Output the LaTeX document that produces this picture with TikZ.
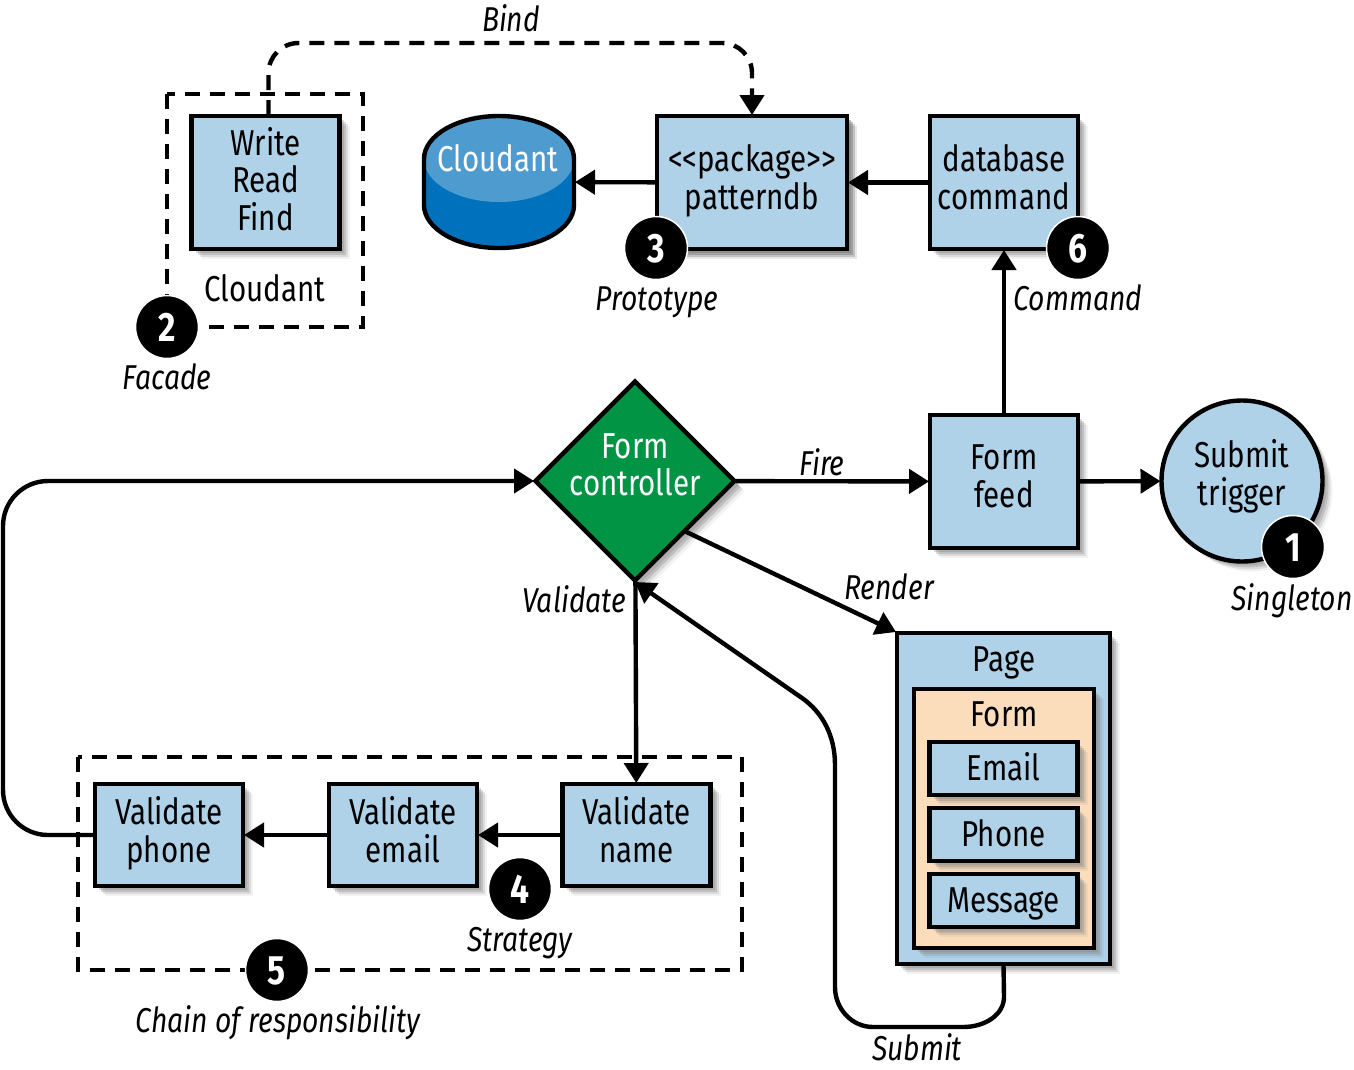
\documentclass[tikz,border=0pt]{standalone}
\usepackage{fontspec}
\setmainfont[FakeStretch=0.82]{Fira Sans}
\usetikzlibrary{arrows.meta,shadows,shapes.geometric}
\definecolor{boxblue}{HTML}{AFD2E9}
\definecolor{formtan}{HTML}{FBDDBB}
\definecolor{ctrlgreen}{HTML}{009444}
\definecolor{dbtop}{HTML}{4E9BD0}
\definecolor{dbside}{HTML}{0071BC}
\begin{document}
\begin{tikzpicture}[x=1pt, y=-1pt, line width=4.4pt,
    every node/.style={font=\fontsize{36}{37.5}\selectfont, align=center, inner sep=0pt, outer sep=1pt,
      execute at begin node={\rule{0pt}{32pt}}, execute at end node={\rule[-8pt]{0pt}{8pt}}},
    pair/.style={execute at begin node={\rule{0pt}{28pt}}, execute at end node={\rule[-11pt]{0pt}{11pt}}},
    soft/.style={drop shadow={shadow xshift=10pt, shadow yshift=-10pt, opacity=.1},
      drop shadow={shadow xshift=8pt, shadow yshift=-8pt, opacity=.2},
      drop shadow={shadow xshift=6pt, shadow yshift=-6pt, opacity=.3},
      drop shadow={shadow xshift=4pt, shadow yshift=-4pt, opacity=.3}},
    box/.style={draw, rectangle, soft, fill=boxblue, minimum width=#1},
    box/.default=148pt,
    tall/.style={box, minimum height=133pt},
    short/.style={box, minimum height=102pt, pair},
    field/.style={box, minimum height=53pt},
    tag/.style={font=\fontsize{34.5}{37}\selectfont\itshape},
    callout/.style={circle, fill=black, draw=white, line width=1.5pt, minimum size=63pt,
      text=white, font=\fontsize{41}{41}\selectfont\bfseries,
      execute at begin node={\rule{0pt}{36pt}}},
    flow/.style={-{Triangle[length=20pt,width=24pt]}},
    group/.style={dash pattern=on 15pt off 10pt}]
  \useasboundingbox (0,0) rectangle (1354,1069);

  \draw[group] (167,94) rectangle (363,327);
  \draw[group] (78,757) rectangle (742,970);

  \node[tall] (write) at (265.5,182.5) {Write\\Read\\Find};
  \node (facade) at (265,289) {Cloudant};

  \fill[dbside] (424,159) -- (424,205) arc[start angle=180, end angle=360, x radius=75pt, y radius=43pt]
    -- (574,159) arc[start angle=0, end angle=180, x radius=75pt, y radius=43pt] -- cycle;
  \fill[dbtop] (499,159) ellipse[x radius=75pt, y radius=43pt];
  \draw (424,159) -- (424,205) arc[start angle=180, end angle=360, x radius=75pt, y radius=43pt]
    -- (574,159) arc[start angle=0, end angle=180, x radius=75pt, y radius=43pt] -- cycle;
  \node[minimum width=150pt] (cloudant) at (499,182) {};
  \node[text=white] (cloudanttext) at (498,159.5) {Cloudant};

  \node[tall, box=190pt, pair] (package) at (752,182.5) {{<}{<}package{>}{>}\\patterndb};
  \node[tall, pair] (database) at (1004,182.5) {database\\command};

  \node[diamond, draw, soft, fill=ctrlgreen, minimum width=200pt, minimum height=200pt] (controller) at (635,481) {};
  \node[text=white, pair] (controllertext) at (635,470) {Form\\controller};
  \node[tall, pair] (feed) at (1004,481.5) {Form\\feed};
  \node[circle, draw, fill=boxblue, soft, minimum size=161pt] (trigger) at (1242,481) {};
  \node[pair] (triggertext) at (1242,478) {Submit\\trigger};

  \node[box=213pt, minimum height=331pt] (page) at (1003.5,798.5) {};
  \node (pagetext) at (1004,659) {Page};
  \node[draw, rectangle, soft, fill=formtan, minimum width=180pt, minimum height=259pt] (form) at (1004,818.5) {};
  \node (formtext) at (1004,714) {Form};
  \node[field] (email) at (1003.5,768.5) {Email};
  \node[field] (phone) at (1003.5,834.5) {Phone};
  \node[field] (message) at (1003.5,900.5) {Message};

  \node[short] (vname) at (636.5,835) {Validate\\name};
  \node[short] (vemail) at (403,835) {Validate\\email};
  \node[short] (vphone) at (169,835) {Validate\\phone};

  \draw[flow, group, rounded corners=30pt] ([xshift=3pt]write.north) -- ++(0,-72) -| (package.north);
  \draw[flow] (package) -- (cloudant);
  \draw[flow] (database) -- (package);
  \draw[flow] (feed) -- (database);
  \draw[flow] (controller) -- (feed);
  \draw[flow] (feed) -- (trigger);
  \draw[flow] (controller.south east) -- (page.north west);
  \draw[flow] (controller) -- (vname);
  \draw[flow] (vname) -- (vemail);
  \draw[flow] (vemail) -- (vphone);
  \draw[flow, rounded corners=45pt] (vphone.west) -- (3,835) -- (3,481) -- (controller.west);
  \draw[flow] (page.south) -- (1004,997) .. controls (1004,1014) and (986,1027) .. (963,1027) -- (873,1027)
    .. controls (852,1027) and (835,1009) .. (835,987) -- (835,765)
    .. controls (835,735) and (822,712) .. (802,698) -- (controller.south);

  \node[callout] (one) at (1293,547) {1};
  \node[callout] (two) at (167,327) {2};
  \node[callout] (three) at (656,248) {3};
  \node[callout] (four) at (520,889) {4};
  \node[callout] (five) at (277,970) {5};
  \node[callout] (six) at (1078,248) {6};

  \node[tag] (bind) at (511,19) {Bind};
  \node[tag] (prototype) at (657,298) {Prototype};
  \node[tag] (command) at (1078,298) {Command};
  \node[tag] (facadetag) at (167,377) {Facade};
  \node[tag] (fire) at (822,463) {Fire};
  \node[tag] (render) at (889,587) {Render};
  \node[tag] (validate) at (574,600) {Validate};
  \node[tag] (singleton) at (1292,598) {Singleton};
  \node[tag] (strategy) at (520,939) {Strategy};
  \node[tag] (chain) at (278,1020) {Chain of responsibility};
  \node[tag] (submit) at (917,1048) {Submit};
\end{tikzpicture}
\end{document}
